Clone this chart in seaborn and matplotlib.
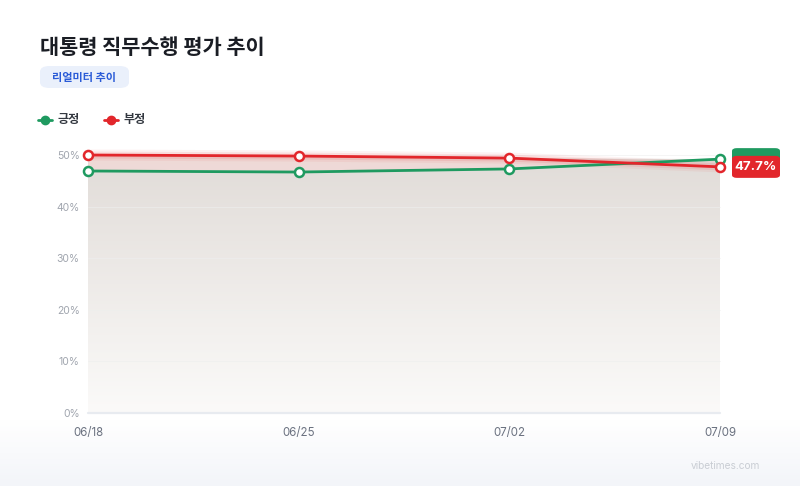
import numpy as np
import pandas as pd
import matplotlib
matplotlib.use("Agg")
import matplotlib.pyplot as plt
import seaborn as sns
from matplotlib.patches import FancyBboxPatch, Polygon
from matplotlib.colors import LinearSegmentedColormap

dates = ["06/18", "06/25", "07/02", "07/09"]
positive = [46.9, 46.7, 47.3, 49.2]
negative = [50.0, 49.8, 49.4, 47.7]
yticks = [0, 10, 20, 30, 40, 50]
series_names = ["긍정", "부정"]
colors = {"긍정": "#1f9a60", "부정": "#e2262b"}

sns.set_theme(style="white")
plt.rcParams['font.family'] = ['Inter', 'Noto Sans CJK KR', 'DejaVu Sans']
KR = ['Noto Sans CJK KR', 'DejaVu Sans']

fig = plt.figure(figsize=(8, 4.86), dpi=100)
fig.patch.set_facecolor("white")

# bottom bluish gradient band
bg = fig.add_axes([0, 0, 1, 1], zorder=-10)
bg.set_xlim(0, 1); bg.set_ylim(0, 1); bg.axis("off")
grad = np.linspace(0, 1, 100).reshape(-1, 1)
cm_bg = LinearSegmentedColormap.from_list("bg", ["#f3f5f9", "#ffffff"])
bg.imshow(grad, extent=[0, 1, 0, 66/486], origin="lower", cmap=cm_bg, aspect="auto")

x0, x1 = 88/800, 720/800
y0 = (486-413)/486
y1 = (486-155)/486
ax = fig.add_axes([x0, y0, x1-x0, y1-y0])
ax.set_facecolor("none")

df = pd.DataFrame({"x": list(range(len(dates))) * 2,
                   "value": positive + negative,
                   "series": [series_names[0]] * len(dates) + [series_names[1]] * len(dates)})
xs = np.arange(len(dates))

# gradient area fill under the upper envelope
top = np.maximum(positive, negative)
cm_fill = LinearSegmentedColormap.from_list("fill", ["#fbfaf9", "#e1dcd8"])
im = ax.imshow(np.linspace(0, 1, 200).reshape(-1, 1), extent=[0, len(dates)-1, 0, 50],
               origin="lower", cmap=cm_fill, aspect="auto", zorder=1)
poly = Polygon(np.column_stack([np.r_[xs, xs[::-1]], np.r_[top, np.zeros(len(xs))]]),
               closed=True, transform=ax.transData, facecolor="none", edgecolor="none")
ax.add_patch(poly)
im.set_clip_path(poly)
# pinkish haze between lines
ax.fill_between(xs, positive, negative, where=np.array(negative) >= np.array(positive),
                interpolate=True, color="#f7d7d6", alpha=0.6, zorder=1.5, linewidth=0)

# gridlines
for t in yticks:
    if t == 0:
        ax.axhline(t, color="#e8ebf0", lw=1.6, zorder=2)
    else:
        ax.axhline(t, color="#eeeeee", lw=0.6, zorder=2, alpha=0.7)

# glow for red line
for lw, a in [(8, 0.06), (5, 0.1)]:
    ax.plot(xs, negative, color=colors["부정"], lw=lw, alpha=a, zorder=2.5, solid_capstyle="round")

sns.lineplot(data=df, x="x", y="value", hue="series", palette=colors, ax=ax,
             linewidth=2.0, marker="o", markersize=6.5, markerfacecolor="white",
             markeredgewidth=1.8, legend=False, zorder=3, clip_on=False)
for line in ax.get_lines():
    line.set_clip_on(False)
    line.set_markeredgecolor(line.get_color())

ax.set_xlim(0, len(dates)-1)
ax.set_ylim(0, 50)
ax.set_yticks(yticks)
ax.set_yticklabels([f"{t}%" for t in yticks], color="#a0a5ae", fontsize=7.5)
ax.set_xticks(xs)
ax.set_xticklabels(dates, color="#6b7280", fontsize=8.3)
ax.tick_params(axis="both", length=0)
ax.tick_params(axis="y", pad=6)
ax.tick_params(axis="x", pad=10)
for s in ax.spines.values():
    s.set_visible(False)
ax.set_xlabel(""); ax.set_ylabel("")

# end value labels
def label_box(yval, color, text):
    disp = ax.transData.transform((len(dates)-1, yval))
    fx, fy = fig.transFigure.inverted().transform(disp)
    w, h = 48/800, 22/486
    bx = 732/800
    by = fy - h/2
    box = FancyBboxPatch((bx, by), w, h, boxstyle="round,pad=0,rounding_size=0.006",
                         transform=fig.transFigure, facecolor=color, edgecolor="none", zorder=5)
    fig.patches.append(box)
    if text:
        fig.text(bx + w/2, by + h/2, text, color="white", fontsize=9.5, fontweight="bold",
                 ha="center", va="center", zorder=6)

label_box(positive[-1], colors["긍정"], "")
label_box(negative[-1], colors["부정"], f"{negative[-1]}%")

# title and badge
fig.text(40/800, 1 - 48/486, "대통령 직무수행 평가 추이", fontsize=15, fontweight="bold",
         color="#1a1d24", va="center", ha="left", family=KR)
badge = FancyBboxPatch((40/800, 1 - 88/486), 89/800, 22/486,
                       boxstyle="round,pad=0,rounding_size=0.012", transform=fig.transFigure,
                       facecolor="#eaf0fb", edgecolor="none")
fig.patches.append(badge)
fig.text(84.5/800, 1 - 77/486, "리얼미터 추이", fontsize=8, fontweight="bold",
         color="#2a5bd7", ha="center", va="center", family=KR)

# legend
lx = [38, 104]
for i, name in enumerate(series_names):
    yy = 1 - 120/486
    fig.lines.append(plt.Line2D([lx[i]/800, (lx[i]+14)/800], [yy, yy], color=colors[name],
                                lw=2, transform=fig.transFigure))
    fig.lines.append(plt.Line2D([(lx[i]+7)/800], [yy], marker="o", markersize=6,
                                color=colors[name], transform=fig.transFigure))
    fig.text((lx[i]+20)/800, yy, name, fontsize=8.7, fontweight="bold", color="#333840",
             va="center", ha="left", family=KR)

fig.text(760/800, 1 - 466/486, "vibetimes.com", fontsize=7.3, color="#c9cdd4",
         ha="right", va="center")

fig.savefig("out.png", dpi=100)
